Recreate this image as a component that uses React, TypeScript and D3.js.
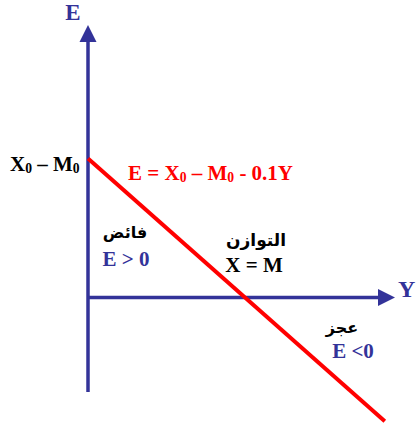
import React from "react";
import * as d3 from "d3";

// Model: E = (X0 - M0) - 0.1 * Y
const intercept = 10; // X0 - M0
const slope = -0.1;
const yDomain = [0, 195.5];
const eDomain = [-6.8, 19.6];
const lineYs = [0, 189];

const W = 416;
const H = 425;

export default function App() {
  const x = d3.scaleLinear().domain(yDomain).range([88, 395]);
  const y = d3.scaleLinear().domain(eDomain).range([392, 25]);
  const lineData = lineYs.map((v) => ({ Y: v, E: intercept + slope * v }));
  const line = d3
    .line<{ Y: number; E: number }>()
    .x((d) => x(d.Y))
    .y((d) => y(d.E));

  const blue = "#333399";
  const x0 = x(0);
  const y0 = y(0);
  const serif = "'Liberation Serif', 'Times New Roman', serif";
  const arabic = "'DejaVu Sans', sans-serif";
  const sub = { fontSize: "0.65em" } as React.CSSProperties;

  return (
    <svg
      width={W}
      height={H}
      style={{ position: "absolute", left: 0, top: 0, background: "#fff" }}
      fontFamily={serif}
      fontWeight="bold"
    >
      {/* vertical axis */}
      <line x1={x0} x2={x0} y1={y(eDomain[0])} y2={42} stroke={blue} strokeWidth={3.5} />
      <path d={`M${x0 - 8.5},42 L${x0},${y(eDomain[1])} L${x0 + 8.5},42 Z`} fill={blue} />
      {/* horizontal axis */}
      <line x1={x0} x2={378} y1={y0} y2={y0} stroke={blue} strokeWidth={3.5} />
      <path d={`M378,${y0 - 8.5} L${x(yDomain[1])},${y0} L378,${y0 + 8.5} Z`} fill={blue} />
      {/* red line */}
      <path d={line(lineData) || ""} stroke="#ff0000" strokeWidth={4} fill="none" />

      {/* labels */}
      <text x={73} y={20} fontSize={23} fill={blue} textAnchor="middle">E</text>
      <text x={398} y={297} fontSize={24} fill={blue}>Y</text>

      <text x={10} y={171} fontSize={21} fill="#000">
        X<tspan style={sub} dy={2}>0</tspan>
        <tspan dy={-2}> – M</tspan>
        <tspan style={sub} dy={2}>0</tspan>
      </text>

      <text x={128} y={180} fontSize={21} fill="#ff0000">
        E = X<tspan style={sub} dy={2}>0</tspan>
        <tspan dy={-2}> – M</tspan>
        <tspan style={sub} dy={2}>0</tspan>
        <tspan dy={-2}> - 0.1Y</tspan>
      </text>

      <text x={125} y={238} fontSize={16} fill="#000" fontFamily={arabic} textAnchor="middle">فائض</text>
      <text x={126} y={266} fontSize={21} fill={blue} textAnchor="middle">E &gt; 0</text>

      <text x={256} y={246} fontSize={17} fill="#000" fontFamily={arabic} textAnchor="middle">التوازن</text>
      <text x={254} y={272} fontSize={21} fill="#000" textAnchor="middle">X = M</text>

      <text x={342} y={333} fontSize={16} fill="#000" fontFamily={arabic} textAnchor="middle">عجز</text>
      <text x={353} y={358} fontSize={21} fill={blue} textAnchor="middle">E &lt;0</text>
    </svg>
  );
}
